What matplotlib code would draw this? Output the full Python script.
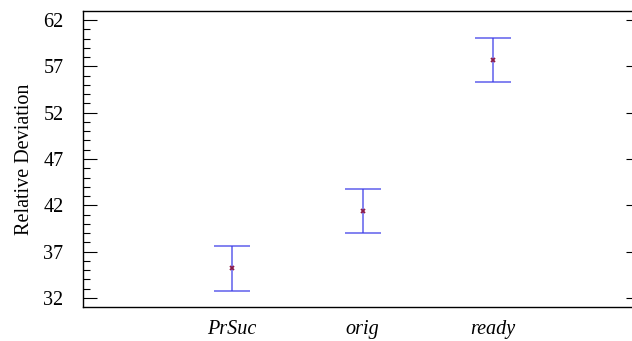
import matplotlib
matplotlib.use("Agg")
import matplotlib.pyplot as plt
from matplotlib.ticker import MultipleLocator, FixedLocator

categories = ["PrSuc", "orig", "ready"]
means = [35.2, 41.4, 57.7]
errors = [2.4, 2.4, 2.4]
yticks = [32, 37, 42, 47, 52, 57, 62]

plt.rcParams['font.family'] = ['Liberation Serif', 'DejaVu Serif']

fig = plt.figure(figsize=(6.32, 3.41), dpi=100)
ax = fig.add_axes([83/632, 1 - 307/341, (640 - 83)/632, (307 - 11)/341])

pos = [1, 2, 3]
ax.errorbar(pos, means, yerr=errors, fmt='none', ecolor='#3838e8', elinewidth=1.1,
            capsize=13, capthick=1.1, alpha=0.8)
ax.plot(pos, means, linestyle='none', marker='x', markersize=3, mew=1.3, color='#8b1a4a')

ax.set_xlim(-0.142, 4.126)
ax.set_ylim(31.03, 62.97)
ax.set_xticks(pos)
ax.set_xticklabels(categories, fontstyle='italic', fontsize=14.5)
ax.yaxis.set_major_locator(FixedLocator(yticks))
ax.yaxis.set_minor_locator(MultipleLocator(1))
ax.set_yticklabels([str(v) for v in yticks], fontsize=14.5)
ax.tick_params(axis='y', which='major', direction='in', length=10, width=0.8, right=True, pad=14)
ax.tick_params(axis='y', which='minor', direction='in', length=5, width=0.8, right=False)
ax.tick_params(axis='x', which='both', length=0, pad=9.5)
ax.set_ylabel("Relative Deviation", fontsize=14.5, labelpad=7)
for s in ax.spines.values():
    s.set_linewidth(1.0)

fig.savefig("out.png", dpi=100)
